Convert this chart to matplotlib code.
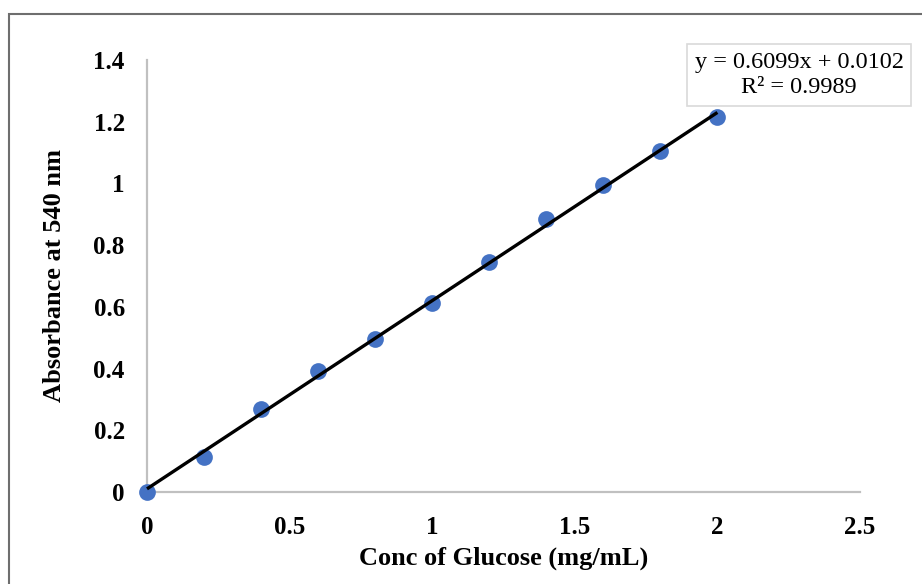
import matplotlib
matplotlib.use("Agg")
import matplotlib.pyplot as plt
from matplotlib.patches import Rectangle

# Glucose standard curve (DNS assay)
conc = [0.0, 0.2, 0.4, 0.6, 0.8, 1.0, 1.2, 1.4, 1.6, 1.8, 2.0]
absorbance = [0.0, 0.113, 0.269, 0.392, 0.496, 0.612, 0.745, 0.885, 0.995, 1.105, 1.215]

# Linear fit reported on the chart
slope = 0.6099
intercept = 0.0102
r_squared = 0.9989

x_ticks = [0, 0.5, 1, 1.5, 2, 2.5]
x_tick_labels = ["0", "0.5", "1", "1.5", "2", "2.5"]
y_ticks = [0, 0.2, 0.4, 0.6, 0.8, 1.0, 1.2, 1.4]
y_tick_labels = ["0", "0.2", "0.4", "0.6", "0.8", "1", "1.2", "1.4"]

W, H = 922, 584
fig = plt.figure(figsize=(W / 100, H / 100), dpi=100)
fig.patch.set_facecolor("white")

serif = ["Liberation Serif", "DejaVu Serif"]

# Outer chart frame
fig.add_artist(Rectangle((9 / W, -0.05), 1.2, 1 - 14 / H + 0.05,
                         transform=fig.transFigure, fill=False,
                         edgecolor="#6e6e6e", linewidth=1.5))

ax = fig.add_axes([147 / W, 1 - 492 / H, (860 - 147) / W, (492 - 60) / H])
ax.set_xlim(0, 2.5)
ax.set_ylim(0, 1.4)

for side in ("top", "right"):
    ax.spines[side].set_visible(False)
for side in ("left", "bottom"):
    ax.spines[side].set_color("#c0c0c0")
    ax.spines[side].set_linewidth(1.6)

ax.set_xticks(x_ticks)
ax.set_xticklabels(x_tick_labels)
ax.set_yticks(y_ticks)
ax.set_yticklabels(y_tick_labels)
ax.tick_params(axis="both", length=0)
ax.tick_params(axis="x", pad=17)
ax.tick_params(axis="y", pad=16)
for lbl in ax.get_xticklabels() + ax.get_yticklabels():
    lbl.set_fontfamily(serif)
    lbl.set_fontweight("bold")
    lbl.set_fontsize(18)

ax.scatter(conc, absorbance, s=145, color="#4472c4", zorder=3, clip_on=False,
           linewidths=0)

fit_x = [conc[0], conc[-1]]
fit_y = [slope * v + intercept for v in fit_x]
ax.plot(fit_x, fit_y, color="black", linewidth=2.4, zorder=4, clip_on=False,
        solid_capstyle="butt")

ax.set_xlabel("Conc of Glucose (mg/mL)", family=serif, fontweight="bold",
              fontsize=19, labelpad=6)
ax.set_ylabel("Absorbance at 540 nm", family=serif, fontweight="bold",
              fontsize=19, labelpad=20)

eq_text = f"y = {slope:.4f}x + {intercept:.4f}\nR² = {r_squared:.4f}"
fig.text(799 / W, 1 - 75 / H, eq_text, family=serif, fontsize=17.5,
         ha="center", va="center", linespacing=1.28, multialignment="center",
         bbox=dict(boxstyle="square,pad=0.3", facecolor="white",
                   edgecolor="#d9d9d9", linewidth=1.2))

fig.savefig("out.png", dpi=100)
